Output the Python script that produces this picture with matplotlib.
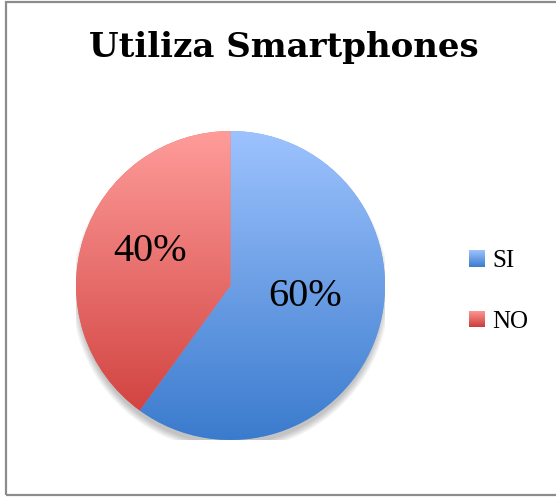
import numpy as np
import matplotlib
matplotlib.use('Agg')
import matplotlib.pyplot as plt
from matplotlib.colors import to_rgb
from matplotlib.patches import Rectangle, Circle

# data
labels = ['SI', 'NO']
values = [60, 40]
title = 'Utiliza Smartphones'

# gradient colours (top -> bottom) for each slice
top_colors = ['#9dc3fe', '#fe9c9a']
bottom_colors = ['#3b7bcd', '#cd3b38']

fig = plt.figure(figsize=(5.56, 4.97), dpi=100)

# frame around the chart
fig.patches.append(Rectangle((6 / 556, 1 - 495 / 497), 1.2, 493.5 / 497,
                             transform=fig.transFigure, fill=False,
                             edgecolor='#8c8c8c', linewidth=1.6))

fig.text(283.5 / 556, 1 - 57.3 / 497, title, ha='center', va='baseline',
         fontsize=24.5, fontweight='bold', family='DejaVu Serif')

ax = fig.add_axes([0.1367, 0.1147, 0.5558, 0.6217])

mid_colors = [tuple((np.array(to_rgb(t)) + np.array(to_rgb(b))) / 2)
              for t, b in zip(top_colors, bottom_colors)]

wedges, texts, autotexts = ax.pie(values, startangle=90, counterclock=False,
                                  colors=mid_colors, autopct='%1.0f%%',
                                  wedgeprops=dict(edgecolor='none'),
                                  textprops=dict(fontsize=29, family='Liberation Serif',
                                                 color='black'))

# soft shadow, mostly under the bottom edge
for i in range(8):
    ax.add_patch(Circle((0, -0.045), 0.985 + i * 0.006, facecolor='#000000',
                        alpha=0.03, edgecolor='none', zorder=0))

# vertical gradient fill, clipped to each wedge
g = np.linspace(0, 1, 256)[:, None, None]
for w, t, b in zip(wedges, top_colors, bottom_colors):
    rgb = np.array(to_rgb(t)) * (1 - g) + np.array(to_rgb(b)) * g
    im = ax.imshow(rgb, extent=(-1, 1, -1, 1), origin='upper', aspect='auto',
                   interpolation='bilinear', zorder=w.get_zorder() + 0.1)
    im.set_clip_path(w)

# label placement (radius units)
label_pos = [(0.485, -0.133), (-0.521, 0.159)]
for txt, pos in zip(autotexts, label_pos):
    txt.set_position(pos)
    txt.set_ha('center')
    txt.set_va('baseline')
    txt.set_zorder(5)

ax.set_xlim(-1, 1)
ax.set_ylim(-1, 1)
ax.axis('off')

leg = fig.legend(wedges, labels, loc='center left',
                 bbox_to_anchor=(469 / 556, 1 - 291.5 / 497), frameon=False,
                 prop=dict(family='Liberation Serif', size=18),
                 handlelength=0.64, handleheight=0.64, handletextpad=0.3,
                 labelspacing=1.55, borderpad=0, borderaxespad=0)

# gradient on the legend squares too
fig.canvas.draw()
inv = fig.transFigure.inverted()
for h, t, b in zip(leg.legend_handles, top_colors, bottom_colors):
    bb = h.get_window_extent().transformed(inv)
    hax = fig.add_axes([bb.x0, bb.y0, bb.width, bb.height])
    hax.set_zorder(10)
    rgb = np.array(to_rgb(t)) * (1 - g) + np.array(to_rgb(b)) * g
    hax.imshow(rgb, aspect='auto', interpolation='bilinear')
    hax.axis('off')

fig.savefig('out.png', dpi=100)
